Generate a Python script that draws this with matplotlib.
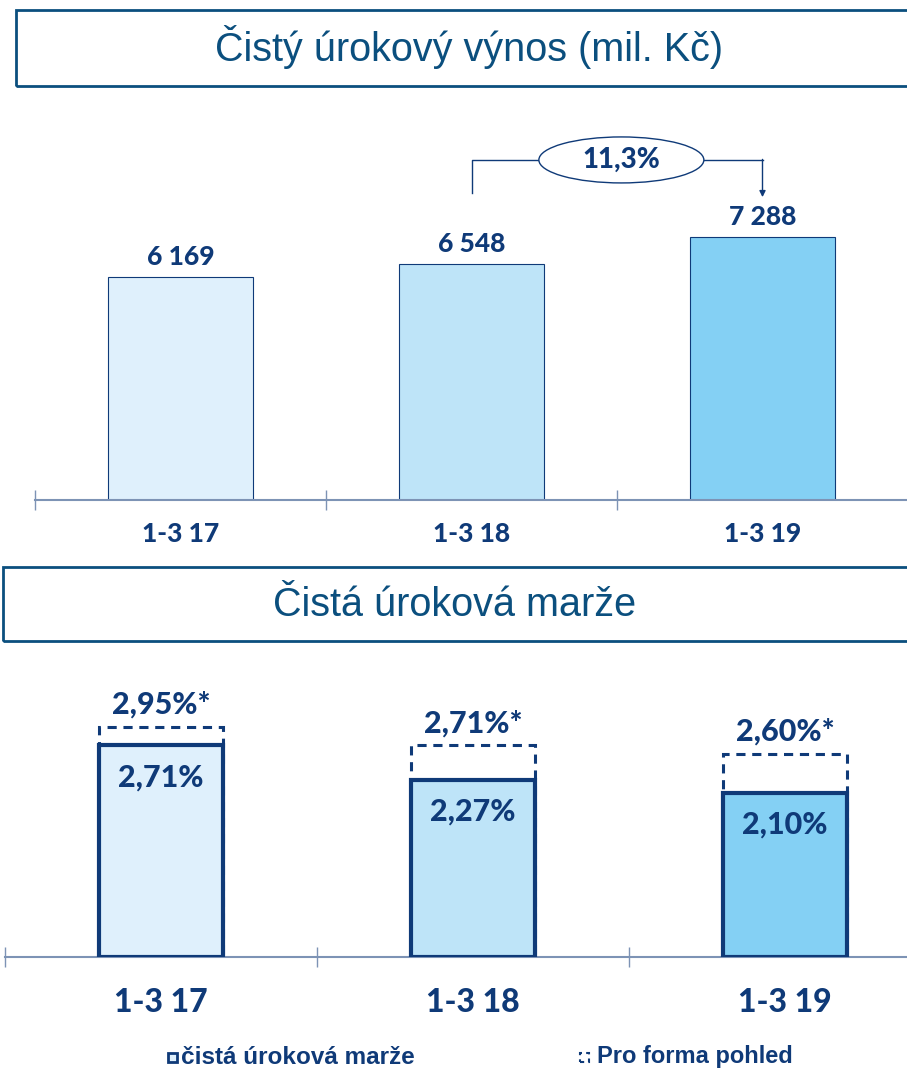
import matplotlib
matplotlib.use("Agg")
import matplotlib.pyplot as plt
from matplotlib.patches import Rectangle, Ellipse

# Údaje
obdobi = ["1-3 17", "1-3 18", "1-3 19"]
vynos = [6169, 6548, 7288]
vynos_popisky = ["6 169", "6 548", "7 288"]
rust_popisek = "11,3%"
marze = [2.71, 2.27, 2.10]
marze_pro_forma = [2.95, 2.71, 2.60]

W, H = 907, 1068
NAVY = "#0f3a78"
TITLE_BLUE = "#0b4f7e"
AXIS_COL = "#7d93b5"
BAR_COLORS = ["#dff0fc", "#bee4f8", "#84d0f4"]
BOLD_FONT = ["Lato", "DejaVu Sans"]
ARIAL = ["Liberation Sans", "DejaVu Sans"]
HEAVY = "black"


def box(left, top, right, bottom):
    """Převod pixelového obdélníku na souřadnice figury."""
    return [left / W, 1 - bottom / H, (right - left) / W, (bottom - top) / H]


def title_box(fig, left, top, bottom, text, xc, yc):
    fig.patches.append(Rectangle((left / W, 1 - bottom / H), 1.2, (bottom - top) / H,
                                 transform=fig.transFigure, fill=False,
                                 edgecolor=TITLE_BLUE, linewidth=2))
    fig.text(xc / W, 1 - yc / H, text, ha="center", va="center",
             fontsize=28.5, color=TITLE_BLUE, family=ARIAL)


def base_axis(ax):
    for s in ["top", "right", "left"]:
        ax.spines[s].set_visible(False)
    ax.spines["bottom"].set_color(AXIS_COL)
    ax.spines["bottom"].set_linewidth(1.5)
    ax.set_yticks([])
    ax.set_xlim(-0.5, 2.5)
    ax.set_xticks([-0.5, 0.5, 1.5, 2.5])
    ax.set_xticklabels([])
    ax.tick_params(axis="x", direction="inout", length=14, width=1,
                   color=AXIS_COL)
    ax.patch.set_alpha(0)


fig = plt.figure(figsize=(W / 100, H / 100), dpi=100)

# Horní graf: čistý úrokový výnos
title_box(fig, 16, 10, 86, "Čistý úrokový výnos (mil. Kč)", 469, 47)
ax1 = fig.add_axes(box(35, 100, 908, 500))
base_axis(ax1)
ax1.set_ylim(0, 400 / 0.0361)
ax1.bar(range(3), vynos, width=0.5, color=BAR_COLORS, edgecolor=NAVY,
        linewidth=0.8, zorder=2)
for i, (v, t) in enumerate(zip(vynos, vynos_popisky)):
    ax1.annotate(t, (i, v), xytext=(0, 20), textcoords="offset pixels",
                 ha="center", va="center", fontsize=19, fontweight=HEAVY,
                 color=NAVY, family=BOLD_FONT)
for i, t in enumerate(obdobi):
    ax1.annotate(t, (i, 0), xytext=(0, -34), textcoords="offset pixels",
                 ha="center", va="center", fontsize=19, fontweight=HEAVY,
                 color=NAVY, family=BOLD_FONT, annotation_clip=False)

# šipka s meziročním růstem
y_br = 9420
ax1.plot([1, 1, 1.29], [8500, y_br, y_br], color=NAVY, lw=1)
ax1.plot([1.74, 2.0], [y_br, y_br], color=NAVY, lw=1)
ax1.annotate("", xy=(2.0, 8390), xytext=(2.0, y_br + 15),
             arrowprops=dict(arrowstyle="-|>", color=NAVY, lw=1,
                             mutation_scale=9, shrinkA=0, shrinkB=0))
ax1.add_patch(Ellipse((1.515, y_br), 0.567, 46 / 0.0361, facecolor="white",
                      edgecolor=NAVY, lw=1, zorder=3))
ax1.text(1.515, y_br, rust_popisek, ha="center", va="center", fontsize=20,
         fontweight=HEAVY, color=NAVY, family=BOLD_FONT, zorder=4)

# Dolní graf: čistá úroková marže
title_box(fig, 3, 567, 641, "Čistá úroková marže", 455, 605)
ax2 = fig.add_axes(box(5, 650, 941, 957))
base_axis(ax2)
ax2.set_ylim(0, 307 / 78.1)
ax2.bar(range(3), marze_pro_forma, width=0.4, fill=False, edgecolor=NAVY,
        linewidth=2.2, linestyle=(0, (3, 2.2)), zorder=2)
ax2.bar(range(3), marze, width=0.4, color=BAR_COLORS, edgecolor=NAVY,
        linewidth=3, zorder=3)
for i, (m, p) in enumerate(zip(marze, marze_pro_forma)):
    ax2.annotate(f"{m:.2f}%".replace(".", ","), (i, m), xytext=(0, -32),
                 textcoords="offset pixels", ha="center", va="center",
                 fontsize=22, fontweight=HEAVY, color=NAVY, family=BOLD_FONT,
                 zorder=4)
    ax2.annotate(f"{p:.2f}%*".replace(".", ","), (i, p), xytext=(0, 22),
                 textcoords="offset pixels", ha="center", va="center",
                 fontsize=22, fontweight=HEAVY, color=NAVY, family=BOLD_FONT)
for i, t in enumerate(obdobi):
    ax2.annotate(t, (i, 0), xytext=(0, -46), textcoords="offset pixels",
                 ha="center", va="center", fontsize=23, fontweight=HEAVY,
                 color=NAVY, family=BOLD_FONT, annotation_clip=False)

# Legenda
fig.patches.append(Rectangle((168 / W, 1 - 1062 / H), 9 / W, 9 / H,
                             transform=fig.transFigure, facecolor="#dff0fc",
                             edgecolor=NAVY, linewidth=2))
fig.text(181 / W, 1 - 1057 / H, "čistá úroková marže", ha="left", va="center",
         fontsize=17.5, fontweight="bold", color=NAVY, family=ARIAL)
fig.patches.append(Rectangle((580 / W, 1 - 1062 / H), 9 / W, 9 / H,
                             transform=fig.transFigure, fill=False,
                             edgecolor=NAVY, linewidth=1.5,
                             linestyle=(0, (2, 2))))
fig.text(597 / W, 1 - 1057 / H, "Pro forma pohled", ha="left", va="center",
         fontsize=17, fontweight="bold", color=NAVY, family=ARIAL)

fig.savefig("out.png", dpi=100)
